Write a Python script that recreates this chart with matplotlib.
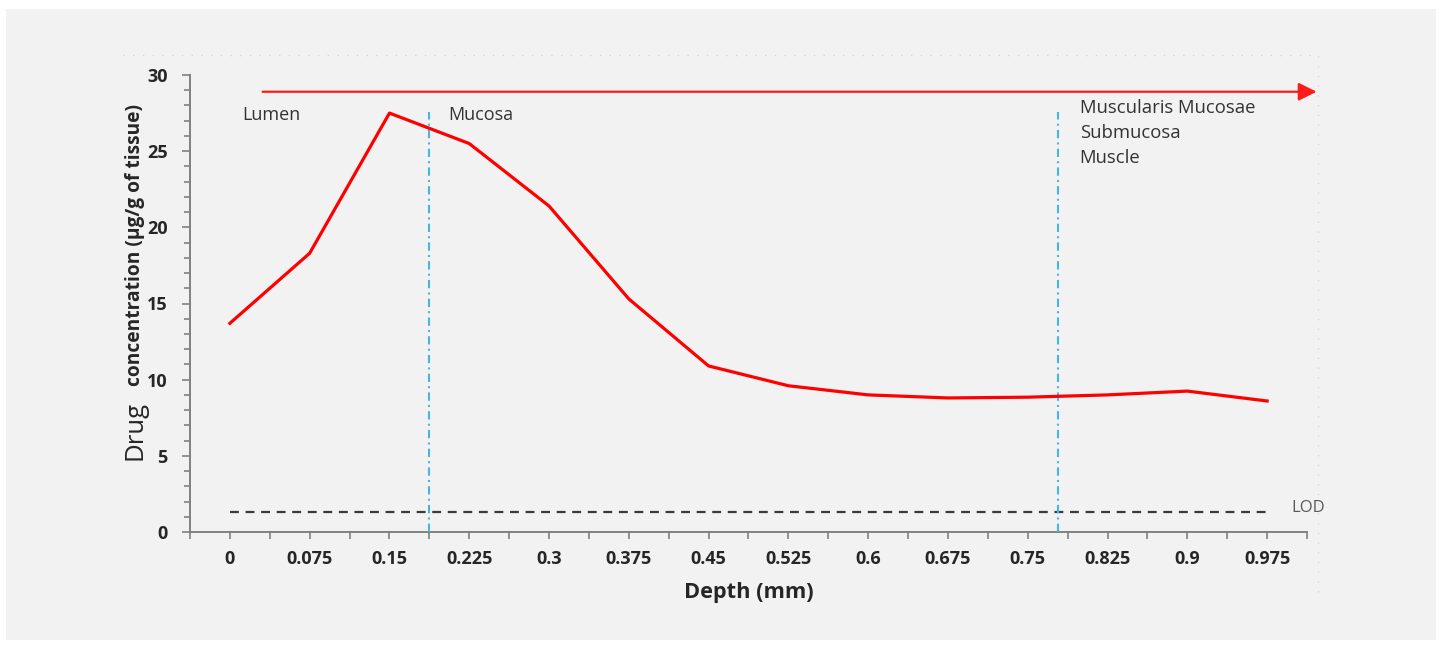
import matplotlib.pyplot as plt
from matplotlib.patches import Rectangle
from matplotlib.lines import Line2D
from matplotlib.ticker import MultipleLocator, FixedLocator

# Datos del gráfico
depth_labels = ['0', '0.075', '0.15', '0.225', '0.3', '0.375', '0.45', '0.525',
                '0.6', '0.675', '0.75', '0.825', '0.9', '0.975']
concentration = [13.7, 18.3, 27.5, 25.5, 21.4, 15.3, 10.9, 9.6,
                 9.0, 8.8, 8.85, 9.0, 9.25, 8.6]
lod = 1.3
layer_bounds = [2.5, 10.38]
layer_names = ['Lumen', 'Mucosa', 'Muscularis Mucosae\nSubmucosa\nMuscle']

plt.rcParams['font.family'] = ['Open Sans', 'DejaVu Sans']

fig = plt.figure(figsize=(14.41, 6.47), dpi=100, facecolor='white')
W, H = 1441, 647

# Panel gris de fondo
fig.patches.append(Rectangle((6 / W, 1 - 640 / H), (1436 - 6) / W, (640 - 9) / H,
                             transform=fig.transFigure, facecolor='#f2f2f2',
                             edgecolor='none', zorder=-10))
# Borde punteado tenue del área del gráfico
fig.lines.append(Line2D([123 / W, 1318 / W, 1318 / W], [1 - 55 / H, 1 - 55 / H, 1 - 600 / H],
                        transform=fig.transFigure, color='#d6d6d6', lw=1,
                        linestyle=(0, (1, 6)), zorder=-5))

ax = fig.add_axes([190 / W, 1 - 532 / H, (1307 - 190) / W, (532 - 75) / H])
ax.set_facecolor('none')
ax.set_zorder(2)

x = list(range(len(depth_labels)))

# Línea de concentración
ax.plot(x, concentration, color='#ff0000', lw=2.3, zorder=4)

# Límite de detección
ax.plot([0, len(x) - 1], [lod, lod], color='#3a3a3a', lw=1.6,
        linestyle=(0, (4, 3)), zorder=3)
ax.text(len(x) - 0.7, lod + 0.3, 'LOD', fontsize=12, color='#595959',
        ha='left', va='center', clip_on=False)

# Límites de las capas
for b in layer_bounds:
    ax.plot([b, b], [0, 27.6], color='#45b5e6', lw=1.5,
            linestyle=(0, (4, 2, 1, 2)), zorder=3)

# Flecha de profundidad
ax.annotate('', xy=(13.62, 28.9), xytext=(0.41, 28.9),
            arrowprops=dict(arrowstyle='-|>,head_length=1.1,head_width=0.55',
                            color='#ff1a1a', lw=1.6, shrinkA=0, shrinkB=0),
            annotation_clip=False)

# Etiquetas de capas
ax.text(0.15, 27.35, layer_names[0], fontsize=13, color='#333333', ha='left', va='center')
ax.text(2.74, 27.35, layer_names[1], fontsize=13, color='#333333', ha='left', va='center')
ax.text(10.65, 28.4, layer_names[2], fontsize=13.3, color='#333333', ha='left', va='top',
        linespacing=1.5)

# Ejes
ax.set_xlim(-0.5, len(x) - 0.5)
ax.set_ylim(0, 30)
ax.xaxis.set_major_locator(FixedLocator(x))
ax.xaxis.set_minor_locator(FixedLocator([i - 0.5 for i in range(len(x) + 1)]))
ax.set_xticklabels(depth_labels, fontweight='bold', fontsize=13, color='#262626')
ax.yaxis.set_major_locator(MultipleLocator(5))
ax.yaxis.set_minor_locator(MultipleLocator(1))
for lbl in ax.get_yticklabels():
    lbl.set_fontweight('bold')
    lbl.set_fontsize(13)
    lbl.set_color('#262626')

ax.spines['top'].set_visible(False)
ax.spines['right'].set_visible(False)
for s in ['left', 'bottom']:
    ax.spines[s].set_color('#808080')
    ax.spines[s].set_linewidth(1.4)
ax.tick_params(axis='both', which='both', direction='out', color='#808080', width=1.2)
ax.tick_params(axis='x', which='both', length=5, pad=8)
ax.tick_params(axis='y', which='major', length=6, pad=10)
ax.tick_params(axis='y', which='minor', length=4)

ax.set_xlabel('Depth (mm)', fontsize=15.7, fontweight='bold', color='#262626', labelpad=10)

# Etiqueta del eje y en dos partes
fig.text(135 / W, 1 - 430 / H, 'Drug', rotation=90, fontsize=18.5, color='#262626',
         ha='center', va='center')
fig.text(135 / W, 1 - 245 / H, 'concentration (µg/g of tissue)', rotation=90,
         fontsize=13.8, fontweight='bold', color='#262626', ha='center', va='center')

fig.savefig('out.png', dpi=100, facecolor='white')
